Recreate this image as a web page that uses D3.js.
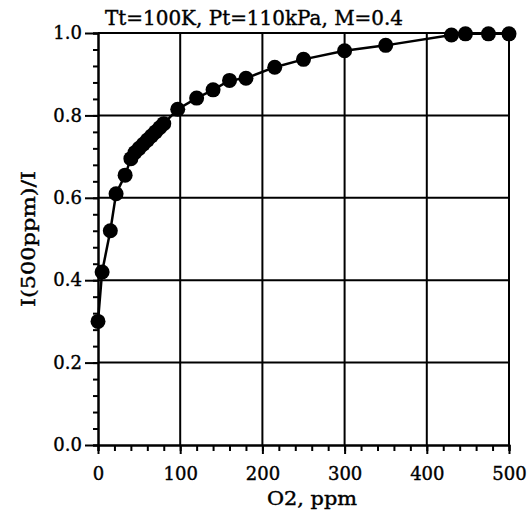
<!DOCTYPE html>
<html>
<head>
<meta charset="utf-8">
<script src="https://cdn.jsdelivr.net/npm/d3@7"></script>
<style>
    body { margin: 0; background: #fff; }
    svg { display: block; }
    text { font-family: "DejaVu Serif", serif; fill: #000; stroke: #000; stroke-width: 0.4px; }
</style>
</head>
<body>
<svg class="chart" width="531" height="517"></svg>
<script>
var title = 'Tt=100K, Pt=110kPa, M=0.4';
var xLabel = 'O2, ppm';
var yLabel = 'I(500ppm)/I';

// O2 concentration (ppm) and normalised intensity
var o2 = [0, 5, 15, 22, 33, 40, 45, 50, 55, 60, 65, 70, 75, 80, 97,
    120, 140, 160, 180, 215, 250, 300, 350, 430, 447, 475, 500];
var ratio = [0.30, 0.42, 0.52, 0.61, 0.655, 0.695, 0.71, 0.72, 0.73, 0.74, 0.75, 0.76, 0.77, 0.78, 0.815,
    0.842, 0.862, 0.885, 0.89, 0.917, 0.936, 0.957, 0.97, 0.995, 0.998, 0.998, 0.998];

var xTicks = [0, 100, 200, 300, 400, 500];
var yTicks = [0, 0.2, 0.4, 0.6, 0.8, 1.0];
var xMinor = d3.range(0, 501, 20);
var yMinor = d3.range(0, 26).map(function(i) { return i * 0.04; });

var margin = {top: 33, right: 22, bottom: 72, left: 98};
var width = 531 - margin.left - margin.right;
var height = 517 - margin.top - margin.bottom;

var points = o2.map(function(d, i) {
    return {x: d, y: ratio[i]};
});

var xScale = d3.scaleLinear().domain([0, 500]).range([0, width]);
var yScale = d3.scaleLinear().domain([0, 1]).range([height, 0]);

var svg = d3.select('.chart');
var g = svg.append('g')
    .attr('transform', 'translate(' + margin.left + ',' + margin.top + ')');

/* Grid */
g.append('g')
    .selectAll('line')
    .data(xTicks.slice(1))
    .join('line')
    .attr('x1', function(d) { return xScale(d); })
    .attr('x2', function(d) { return xScale(d); })
    .attr('y1', 0)
    .attr('y2', height)
    .style('stroke', '#000')
    .style('stroke-width', 2);

g.append('g')
    .selectAll('line')
    .data(yTicks.slice(1))
    .join('line')
    .attr('x1', 0)
    .attr('x2', width)
    .attr('y1', function(d) { return yScale(d); })
    .attr('y2', function(d) { return yScale(d); })
    .style('stroke', '#000')
    .style('stroke-width', 2);

/* Minor ticks */
g.append('g')
    .attr('transform', 'translate(0,' + height + ')')
    .call(d3.axisBottom(xScale).tickValues(xMinor).tickSize(6).tickFormat(''));
g.append('g')
    .call(d3.axisLeft(yScale).tickValues(yMinor).tickSize(5).tickFormat(''));

/* Major axes */
g.append('g')
    .attr('transform', 'translate(0,' + height + ')')
    .call(d3.axisBottom(xScale).tickValues(xTicks).tickSize(9).tickSizeOuter(0).tickPadding(13));
g.append('g')
    .call(d3.axisLeft(yScale).tickValues(yTicks).tickSize(13).tickSizeOuter(0).tickPadding(3)
        .tickFormat(d3.format('.1f')));

g.selectAll('.domain, .tick line')
    .style('stroke', '#000')
    .style('stroke-width', 2);
g.selectAll('.tick text')
    .style('font-family', '"DejaVu Serif", serif')
    .style('font-size', '18px')
    .style('fill', '#000');

/* Data */
var line = d3.line()
    .x(function(d) { return xScale(d.x); })
    .y(function(d) { return yScale(d.y); });

g.append('path')
    .datum(points)
    .attr('d', line)
    .style('fill', 'none')
    .style('stroke', '#000')
    .style('stroke-width', 2.5);

g.append('g')
    .selectAll('circle')
    .data(points)
    .join('circle')
    .attr('cx', function(d) { return xScale(d.x); })
    .attr('cy', function(d) { return yScale(d.y); })
    .attr('r', 7.5)
    .style('fill', '#000');

/* Labels */
svg.append('text')
    .attr('x', 105)
    .attr('y', 25)
    .attr('textLength', 298)
    .attr('lengthAdjust', 'spacingAndGlyphs')
    .style('font-size', '20px')
    .text(title);

svg.append('text')
    .attr('x', 312)
    .attr('y', 505)
    .attr('textLength', 90)
    .attr('lengthAdjust', 'spacingAndGlyphs')
    .style('text-anchor', 'middle')
    .style('font-size', '18px')
    .text(xLabel);

svg.append('text')
    .attr('transform', 'translate(35,' + (margin.top + height / 2) + ') rotate(-90)')
    .attr('textLength', 136)
    .attr('lengthAdjust', 'spacingAndGlyphs')
    .style('text-anchor', 'middle')
    .style('font-size', '18px')
    .text(yLabel);
</script>
</body>
</html>
